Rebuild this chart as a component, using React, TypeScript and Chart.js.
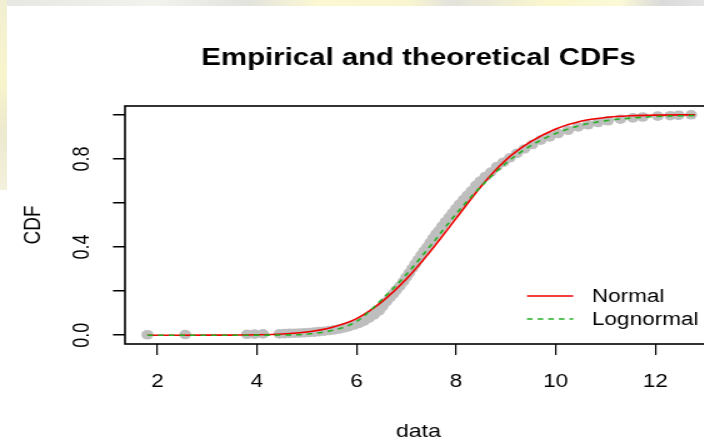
import React, { useEffect, useRef } from "react";
import { Chart, registerables } from "chart.js";

Chart.register(...registerables);

// ---------------- data ----------------
const TITLE = "Empirical and theoretical CDFs";
const X_TITLE = "data";
const Y_TITLE = "CDF";
const seriesNames = ["Normal", "Lognormal"];

const xTicks = [2, 4, 6, 8, 10, 12];
const xTickLabels = ["2", "4", "6", "8", "10", "12"];
const yTicks = [0, 0.2, 0.4, 0.6, 0.8, 1.0];
const yTickLabels = ["0.0", "", "0.4", "", "0.8", ""];
const xRange = [1.35, 13.14];
const yRange = [-0.04, 1.04];

// empirical CDF points (grey)
const empX = [
  1.8, 2.56, 3.8, 3.95, 4.12, 4.45, 4.55, 4.65, 4.75, 4.85, 4.95, 5.05, 5.15, 5.25, 5.35,
  5.45, 5.55, 5.65, 5.75, 5.85, 5.95, 6.05, 6.15, 6.25, 6.35, 6.45, 6.52, 6.6, 6.67, 6.74,
  6.8, 6.87, 6.94, 7.0, 7.06, 7.12, 7.18, 7.24, 7.3, 7.36, 7.42, 7.48, 7.54, 7.6, 7.66,
  7.72, 7.79, 7.86, 7.93, 8.0, 8.07, 8.15, 8.23, 8.31, 8.4, 8.49, 8.59, 8.7, 8.82, 8.95,
  9.08, 9.22, 9.37, 9.53, 9.7, 9.88, 10.05, 10.25, 10.45, 10.65, 10.85, 11.05, 11.3, 11.55,
  11.75, 12.05, 12.3, 12.47, 12.72,
];
const empY = [
  0.002, 0.003, 0.004, 0.005, 0.006, 0.006, 0.007, 0.008, 0.009, 0.01, 0.011, 0.012, 0.014,
  0.016, 0.018, 0.021, 0.024, 0.028, 0.033, 0.039, 0.046, 0.054, 0.064, 0.077, 0.092, 0.11,
  0.13, 0.152, 0.17, 0.188, 0.205, 0.223, 0.243, 0.263, 0.283, 0.303, 0.323, 0.343, 0.363,
  0.383, 0.4, 0.42, 0.44, 0.46, 0.475, 0.495, 0.515, 0.535, 0.555, 0.575, 0.595, 0.615,
  0.635, 0.655, 0.68, 0.7, 0.72, 0.74, 0.765, 0.785, 0.805, 0.825, 0.845, 0.865, 0.885, 0.9,
  0.915, 0.93, 0.945, 0.955, 0.965, 0.973, 0.98, 0.986, 0.99, 0.994, 0.996, 0.998, 1.0,
];

// theoretical CDF: Normal (red)
const normX = [1.8, 2.5, 3.0, 3.5, 4.0, 4.5, 5.0, 5.5, 6.0, 6.5, 7.0, 7.5, 8.0, 8.5, 9.0, 9.5, 10.0, 10.5, 11.0, 11.5, 12.0, 12.8];
const normY = [0.0, 0.0, 0.0001, 0.0005, 0.0017, 0.0053, 0.0144, 0.035, 0.075, 0.15, 0.255, 0.385, 0.53, 0.675, 0.795, 0.878, 0.936, 0.971, 0.988, 0.9957, 0.9987, 0.9998];

// theoretical CDF: Lognormal (green dashed)
const lnormX = [1.8, 2.5, 3.0, 3.5, 4.0, 4.5, 5.0, 5.5, 6.0, 6.5, 7.0, 7.5, 8.0, 8.5, 9.0, 9.5, 10.0, 10.5, 11.0, 11.5, 12.0, 12.8];
const lnormY = [0.0, 0.0, 0.0, 0.0, 0.0001, 0.0007, 0.005, 0.021, 0.062, 0.16, 0.275, 0.41, 0.55, 0.675, 0.78, 0.86, 0.915, 0.952, 0.973, 0.985, 0.992, 0.997];

// ---------------- layout ----------------
const S = 1.25; // horizontal stretch of the reference picture
const W = 590;
const H = 445;
const PLOT_LEFT = 100;
const PLOT_RIGHT = 569.6;
const PLOT_BOTTOM = 344;
const FONT = "'Liberation Sans', Arial, Helvetica, sans-serif";

const framePlugin = {
  id: "rframe",
  afterDraw(chart: any) {
    const { ctx, chartArea } = chart;
    ctx.save();
    ctx.strokeStyle = "#000";
    ctx.lineWidth = 1.6;
    ctx.strokeRect(chartArea.left, chartArea.top, chartArea.right - chartArea.left, chartArea.bottom - chartArea.top);
    ctx.restore();
  },
};

const legendPlugin = {
  id: "rlegend",
  afterDraw(chart: any) {
    const { ctx, chartArea } = chart;
    const x0 = chartArea.right - 148;
    const x1 = chartArea.right - 111;
    const tx = chartArea.right - 96;
    const rows = [296, 319];
    ctx.save();
    ctx.font = `18px ${FONT}`;
    ctx.textBaseline = "middle";
    ctx.textAlign = "left";
    seriesNames.forEach((name, i) => {
      const ds: any = chart.data.datasets.find((d: any) => d.label === name);
      if (!ds) return;
      const y = rows[i];
      ctx.strokeStyle = ds.borderColor;
      ctx.lineWidth = ds.borderWidth;
      ctx.setLineDash(ds.borderDash || []);
      ctx.beginPath();
      ctx.moveTo(x0, y);
      ctx.lineTo(x1, y);
      ctx.stroke();
      ctx.setLineDash([]);
      ctx.fillStyle = "#000";
      ctx.fillText(name, tx, y + 1);
    });
    ctx.restore();
  },
};

export default function App() {
  const ref = useRef<HTMLCanvasElement>(null);

  useEffect(() => {
    const canvas = ref.current;
    if (!canvas) return;
    Chart.defaults.font.family = FONT;
    const chart = new Chart(canvas, {
      type: "scatter",
      data: {
        datasets: [
          {
            label: seriesNames[1],
            data: lnormX.map((x, i) => ({ x, y: lnormY[i] })),
            showLine: true,
            borderColor: "#22B022",
            borderWidth: 1.6,
            borderDash: [4.5, 4],
            pointRadius: 0,
            cubicInterpolationMode: "monotone",
          },
          {
            label: seriesNames[0],
            data: normX.map((x, i) => ({ x, y: normY[i] })),
            showLine: true,
            borderColor: "#EE0000",
            borderWidth: 1.6,
            pointRadius: 0,
            cubicInterpolationMode: "monotone",
          },
          {
            label: "Empirical",
            data: empX.map((x, i) => ({ x, y: empY[i] })),
            showLine: false,
            pointRadius: 4.8,
            pointBackgroundColor: "#BEBEBE",
            pointBorderWidth: 0,
            pointBorderColor: "#BEBEBE",
          },
        ],
      },
      options: {
        responsive: false,
        animation: false,
        devicePixelRatio: 1,
        events: [],
        layout: { padding: { left: 0, right: W - PLOT_RIGHT, top: 0, bottom: 0 } },
        plugins: {
          legend: { display: false },
          tooltip: { enabled: false },
          title: {
            display: true,
            text: TITLE,
            fullSize: false,
            color: "#000",
            font: { size: 23.5, weight: "bold", family: FONT },
            padding: { top: 44.2, bottom: 33.6 },
          },
        },
        scales: {
          x: {
            type: "linear",
            min: xRange[0],
            max: xRange[1],
            afterBuildTicks: (scale: any) => {
              scale.ticks = xTicks.map((v) => ({ value: v }));
            },
            afterFit: (scale: any) => {
              scale.height = H - PLOT_BOTTOM;
            },
            border: { display: false },
            grid: {
              display: true,
              drawOnChartArea: false,
              drawTicks: true,
              tickLength: 11,
              color: "#000",
              lineWidth: 1.2,
            },
            ticks: {
              autoSkip: false,
              minRotation: 0,
              maxRotation: 0,
              padding: 16.7,
              color: "#000",
              font: { size: 18, family: FONT },
              callback: (_v: any, i: number) => xTickLabels[i],
            },
            title: {
              display: true,
              text: X_TITLE,
              color: "#000",
              font: { size: 18.5, family: FONT },
              padding: { top: 0, bottom: 2 },
            },
          },
          y: {
            type: "linear",
            min: yRange[0],
            max: yRange[1],
            afterBuildTicks: (scale: any) => {
              scale.ticks = yTicks.map((v) => ({ value: v }));
            },
            afterFit: (scale: any) => {
              scale.width = PLOT_LEFT;
            },
            border: { display: false },
            grid: {
              display: true,
              drawOnChartArea: false,
              drawTicks: true,
              tickLength: 9.6,
              color: "#000",
              lineWidth: 1.5,
            },
            ticks: {
              autoSkip: false,
              minRotation: 90,
              maxRotation: 90,
              crossAlign: "center",
              padding: 12.3,
              color: "#000",
              font: { size: 18, family: FONT },
              callback: (_v: any, i: number) => yTickLabels[i],
            },
            title: {
              display: true,
              text: Y_TITLE,
              color: "#000",
              font: { size: 19, family: FONT },
              padding: { top: 15, bottom: 0 },
            },
          },
        },
      } as any,
      plugins: [framePlugin, legendPlugin],
    });
    return () => chart.destroy();
  }, []);

  return (
    <div
      style={{
        position: "fixed",
        left: 0,
        top: 0,
        width: 704,
        height: 441,
        overflow: "hidden",
        background: "#ffffff",
      }}
    >
      <div
        style={{
          position: "absolute",
          left: 0,
          top: 0,
          width: 704,
          height: 6,
          background:
            "linear-gradient(to right, #e6e6e2 0%, #f3f3ee 22%, #e2e2de 35%, #fbf8d2 45%, #f9f6cf 58%, #e3e2dc 64%, #faf7cd 78%, #fbf9d6 88%, #dadada 94%, #e4e4e4 100%)",
        }}
      />
      <div
        style={{
          position: "absolute",
          left: 0,
          top: 0,
          width: 7,
          height: 190,
          background: "linear-gradient(to bottom, #f1efd2 0%, #f8f5cc 40%, #ece9cf 70%, #f4f2dc 100%)",
        }}
      />
      <div
        style={{
          position: "absolute",
          left: 0,
          top: 0,
          transform: `scaleX(${S})`,
          transformOrigin: "0 0",
        }}
      >
        <canvas ref={ref} width={W} height={H} style={{ display: "block", width: W, height: H }} />
      </div>
    </div>
  );
}
